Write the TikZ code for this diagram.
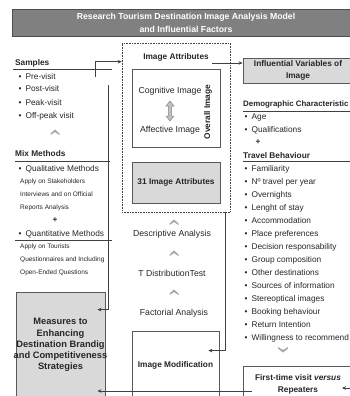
\documentclass[tikz,border=0pt]{standalone}
\usepackage{fontspec}
\setmainfont{Liberation Sans}
\usetikzlibrary{positioning, calc, arrows.meta}
\definecolor{Ink}{HTML}{262626}
\definecolor{Rule}{HTML}{404040}
\definecolor{BarGrey}{HTML}{808080}
\definecolor{BarEdge}{HTML}{4D4D4D}
\definecolor{BoxGrey}{HTML}{D9D9D9}
\definecolor{BoxEdge}{HTML}{595959}
\definecolor{ChevGrey}{HTML}{A6A6A6}
\tikzset{
    titlebar/.style={rectangle, fill=BarGrey, draw=BarEdge, line width=0.8pt, text=white, align=center, font=\bfseries\fontsize{8.7}{13}\selectfont},
    heading/.style={anchor=base west, inner sep=0pt, text=Ink, font=\bfseries\fontsize{8.3}{10}\selectfont},
    item/.style={anchor=base west, inner sep=0pt, text=Ink, font=\fontsize{8.3}{10}\selectfont},
    note/.style={anchor=base west, inner sep=0pt, text=Ink, font=\fontsize{6.5}{8}\selectfont},
    plain/.style={anchor=base, inner sep=0pt, text=Ink, font=\fontsize{8.7}{10}\selectfont},
    boldtxt/.style={inner sep=0pt, text=Ink, align=center, font=\bfseries\fontsize{8.3}{12}\selectfont},
    greybox/.style={rectangle, fill=BoxGrey, draw=BoxEdge, line width=0.8pt},
    whitebox/.style={rectangle, fill=white, draw=BoxEdge, line width=0.8pt},
    seprule/.style={draw=Rule, line width=0.8pt},
    link/.style={-{Stealth[length=4pt, width=3.5pt]}, draw=Rule, line width=0.9pt},
    chevup/.pic={\fill[ChevGrey] (-4.5,1.5) -- (0,-2.5) -- (4.5,1.5) -- (4.5,3) -- (0,0) -- (-4.5,3) -- cycle;},
    chevdown/.pic={\fill[ChevGrey] (-5,-1.5) -- (0,2.5) -- (5,-1.5) -- (5,-3) -- (0,0) -- (-5,-3) -- cycle;},
}

\begin{document}
\begin{tikzpicture}[x=1pt, y=-1pt]
    \useasboundingbox (0,0) rectangle (350,396);

    % Title bar
    \node[titlebar, minimum width=348, minimum height=27] (title) at (186,22.5) {Research Tourism Destination Image Analysis Model\\and Influential Factors};

    % Samples
    \node[heading] (samples) at (15,66) {Samples};
    \draw[seprule] (13,69) -- (112,69);
    \foreach \txt [count=\i] in {Pre-visit, Post-visit, Peak-visit, Off-peak visit}
        \node[item] (sample\i) at (18.5,66+13*\i) {\textbullet\hspace{4pt}\txt};
    \pic at (55,132) {chevup};

    % Mix Methods
    \node[heading] (mixmethods) at (15,156) {Mix Methods};
    \draw[seprule] (15,161) -- (110,161);
    \node[item] (qualitative) at (18.5,171) {\textbullet\hspace{4pt}Qualitative Methods};
    \foreach \txt [count=\i] in {Apply on Stakeholders, Interviews and on Official, Reports Analysis}
        \node[note] (qualnote\i) at (20,170.5+13*\i) {\txt};
    \node[boldtxt] (plusleft) at (55,220) {+};
    \node[item] (quantitative) at (18.5,236) {\textbullet\hspace{4pt}Quantitative Methods};
    \draw[seprule] (15,240) -- (112,240);
    \foreach \txt [count=\i] in {Apply on Tourists, Questionnaires and Including, Open-Ended Questions}
        \node[note] (quantnote\i) at (20,235.5+13*\i) {\txt};

    % Measures box
    \node[greybox, minimum width=89, minimum height=106] (measures) at (60.5,345) {};
    \node[boldtxt, font=\bfseries\fontsize{9.3}{11.2}\selectfont] (measurestext) at (measures.center) {Measures to\\Enhancing\\Destination Brandig\\and Competitiveness\\Strategies};

    % Image attributes frame
    \node[draw=Rule, densely dotted, line width=0.6pt, minimum width=108, minimum height=169] (attrframe) at (176,127.5) {};
    \node[boldtxt] (imgattr) at (176,57) {Image Attributes};
    \node[whitebox, minimum width=88, minimum height=78] (overall) at (176,108) {};
    \node[plain] (cognitive) at (170,93) {Cognitive Image};
    \node[plain] (affective) at (170,132) {Affective Image};
    \filldraw[fill=ChevGrey!70, draw=ChevGrey!80!black, line width=0.5pt]
        (170,101) -- (174,106) -- (171.6,106) -- (171.6,116) -- (174,116) -- (170,121)
        -- (166,116) -- (168.4,116) -- (168.4,106) -- (166,106) -- cycle;
    \node[boldtxt, rotate=90] (overallimg) at (208,112) {Overall Image};
    \node[greybox, boldtxt, minimum width=88, minimum height=41] (attr31) at (176,182.5) {31 Image Attributes};

    % Analysis steps
    \pic at (174,222) {chevup};
    \node[plain] (descriptive) at (172,236) {Descriptive Analysis};
    \pic at (174,253) {chevup};
    \node[plain] (tdist) at (172,276) {T DistributionTest};
    \pic at (174,292) {chevup};
    \node[plain] (factorial) at (174,315) {Factorial Analysis};
    \node[whitebox, minimum width=87, minimum height=68] (imgmod) at (175.5,365) {};
    \node[boldtxt] (imgmodtext) at (imgmod.center) {Image Modification};

    % Influential variables
    \node[greybox, minimum width=110, minimum height=25] (influential) at (298,70.5) {};
    \node[boldtxt] (influentialtext) at (influential.center) {Influential Variables of\\Image};
    \node[heading, font=\bfseries\fontsize{7.9}{10}\selectfont] (demog) at (243,106) {Demographic Characteristic};
    \draw[seprule] (243,111) -- (350,111);
    \foreach \txt [count=\i] in {Age, Qualifications}
        \node[item] (demog\i) at (244.5,106+13*\i) {\textbullet\hspace{4pt}\txt};
    \node[boldtxt] (plusright) at (258,142) {+};
    \node[heading] (travel) at (243,158) {Travel Behaviour};
    \draw[seprule] (243,161) -- (350,161);
    \foreach \txt [count=\i] in {Familiarity, Nº travel per year, Overnights, Lenght of stay, Accommodation, Place preferences, Decision responsability, Group composition, Other destinations, Sources of information, Stereoptical images, Booking behaviour, Return Intention, Willingness to recommend}
        \node[item] (travel\i) at (244.5,158+13*\i) {\textbullet\hspace{4pt}\txt};
    \pic at (283,350) {chevdown};
    \node[whitebox, minimum width=110, minimum height=36] (firsttime) at (298,384) {};
    \node[boldtxt] (firsttimetext) at (firsttime.center) {First-time visit \textit{versus}\\Repeaters};

    % Connectors
    \coordinate (sampleslink) at (95,77);
    \coordinate (methodslink) at (108,85);
    \coordinate (repeatlink) at (352,388);
    \draw[link] (sampleslink) |- ($(attrframe.north west)+(0,19)$);
    \draw[link] ($(imgattr.east)+(3,6)$) -- ($(imgattr.east -| influential.west)+(0,6)$);
    \draw[link] (methodslink) |- ($(measures.north east)+(-8,18)$);
    \draw[link] ($(attrframe.south east)+(-5,0)$) |- ($(imgmod.north east)+(-11,20)$);
    \draw[link] ($(firsttime.west)+(9,7)$) -- ($(firsttime.west -| measures.east)+(-8,7)$);
    \draw[link] (repeatlink) -- ($(firsttime.center)+(44,4)$);
\end{tikzpicture}
\end{document}
